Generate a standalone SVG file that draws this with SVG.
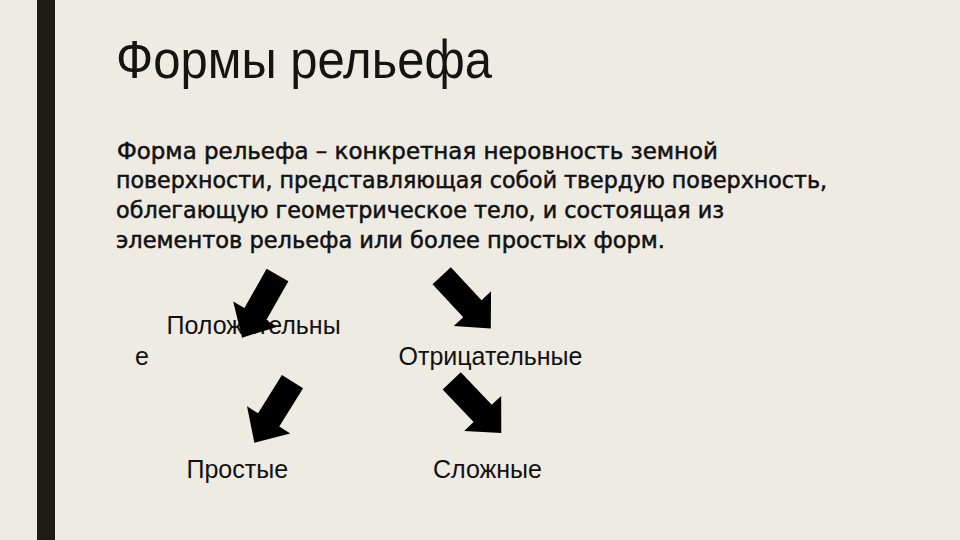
<svg xmlns="http://www.w3.org/2000/svg" width="960" height="540" viewBox="0 0 960 540">
<style>
.title{font-family:"Liberation Sans",Arial,sans-serif;font-size:53px;fill:#141410}
.para{font-family:"DejaVu Sans Condensed","DejaVu Sans",sans-serif;font-size:23.5px;fill:#111;stroke:#111;stroke-width:0.5}
.lbl{font-family:"Liberation Sans",Arial,sans-serif;font-size:25px;fill:#111}
.arr{fill:#000}
</style>
<defs>
<polygon id="arrow" points="0,-12.5 45,-12.5 45,-25.5 72,0 45,25.5 45,12.5 0,12.5"/>
</defs>
<rect x="0" y="0" width="960" height="540" fill="#eeebe3"/>
<rect x="37" y="0" width="18" height="540" fill="#1c1c12"/>
<g id="title"><text class="title" x="116" y="78" textLength="376" lengthAdjust="spacingAndGlyphs">Формы рельефа</text></g>
<g id="definition">
<text class="para" x="117" y="158.5" textLength="601" lengthAdjust="spacingAndGlyphs">Форма рельефа – конкретная неровность земной</text>
<text class="para" x="116" y="188.2" textLength="711" lengthAdjust="spacingAndGlyphs">поверхности, представляющая собой твердую поверхность,</text>
<text class="para" x="116" y="218" textLength="608" lengthAdjust="spacingAndGlyphs">облегающую геометрическое тело, и состоящая из</text>
<text class="para" x="116" y="247.7" textLength="549" lengthAdjust="spacingAndGlyphs">элементов рельефа или более простых форм.</text>
</g>
<g id="positive"><text class="lbl" x="166.5" y="333.5">Положительны</text><text class="lbl" x="135" y="365">е</text></g>
<g id="negative"><text class="lbl" x="398.5" y="365">Отрицательные</text></g>
<g id="simple"><text class="lbl" x="186.5" y="478">Простые</text></g>
<g id="complex"><text class="lbl" x="433" y="478">Сложные</text></g>
<g id="connectors" class="arr">
<use href="#arrow" transform="translate(277.5,275) rotate(119.5)"/>
<use href="#arrow" transform="translate(441.7,275.8) rotate(47)"/>
<use href="#arrow" transform="translate(292.5,381.7) rotate(122)"/>
<use href="#arrow" transform="translate(451.7,380.8) rotate(46.5)"/>
</g>
</svg>
